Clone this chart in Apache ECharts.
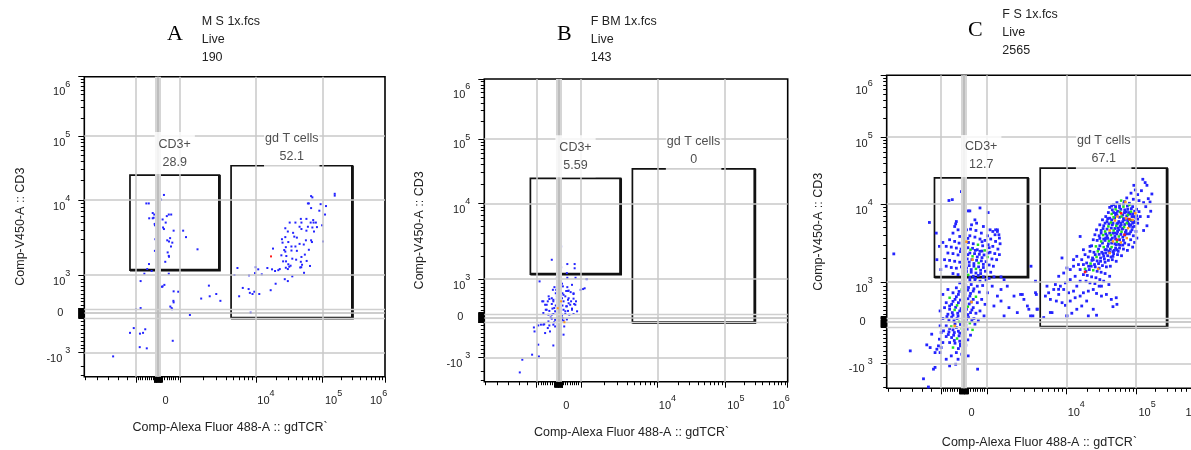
<!DOCTYPE html>
<html><head><meta charset="utf-8">
<script src="https://cdn.jsdelivr.net/npm/echarts@6/dist/echarts.min.js"></script>
<style>html,body{margin:0;padding:0;background:#fff}#c{width:1191px;height:450px}</style>
</head><body><div id="c"></div><script>
// ---------------- DATA (fluorescence values) ----------------
const panelLetters=['A','B','C'];
const sampleNames=['M S 1x.fcs','F BM 1x.fcs','F S 1x.fcs'];
const parentGate=['Live','Live','Live'];
const eventCounts=['190','143','2565'];
const cd3Name='CD3+';
const gdName='gd T cells';
const cd3Freq=['28.9','5.59','12.7'];
const gdFreq=['52.1','0','67.1'];
const gateCD3=[-1200,1160,3300,24500];
const gateGD=[4700,-130,300000,34300];
const xTitle='Comp-Alexa Fluor 488-A :: gdTCR`';
const yTitle='Comp-V450-A :: CD3';
const xTickLabelValues=[0,1e4,1e5,1e6];
const xTickLabels=['0','10^4','10^5','10^6'];
const yTickLabelValues=[-1e3,0,1e3,1e4,1e5,1e6];
const yTickLabels=['-10^3','0','10^3','10^4','10^5','10^6'];
const gridXValues=[-1e3,1e3,1e4,1e5];
const gridYValues=[-1e3,1e3,1e4,1e5];

const panelA_blue=[[270,12000],[140,10100],[-530,9000],[-420,9000],[-30,9500],[-30,8800],[60,7600],[-60,7000],[-240,6700],[-170,6400],[-90,6100],[-200,5800],[-400,5700],[-240,5700],[490,6400],[600,6400],[400,6100],[50,5800],[60,5200],[210,5500],[350,5000],[-150,4800],[-140,4600],[230,4300],[270,4100],[-30,4100],[710,3900],[1100,3900],[550,3100],[1200,3200],[10,3100],[-120,3000],[420,2900],[500,2800],[650,2700],[90,2850],[60,2600],[90,2500],[590,2400],[1700,2200],[-140,2100],[440,2000],[490,1800],[500,1750],[330,1500],[-50,1600],[-50,1450],[50,1400],[80,1350],[-410,1400],[-490,1200],[-290,1130],[-80,1120],[-620,1040],[490,1040],[-790,840],[290,740],[210,700],[180,690],[710,570],[920,560],[700,320],[710,280],[560,170],[620,130],[640,100],[-1000,100],[-790,130],[30,90],[-50,30],[1350,-50],[-1070,-380],[-1200,-500],[-820,-520],[-680,-500],[-580,-410],[30,-410],[670,-700],[-830,-860],[-510,-890],[-2000,-1120],[2400,720],[2460,440],[3000,500],[3400,320],[1900,380],
[67000,11500],[70000,11000],[156000,12500],[156000,11700],[60000,9000],[62000,9000],[93000,8800],[113000,8300],[67000,7800],[89000,7200],[109000,6400],[47000,5600],[57000,5600],[72000,5400],[73000,5000],[66000,5000],[79000,5000],[48000,5000],[32000,5000],[39000,5000],[98000,4600],[60000,4400],[70000,4300],[82000,4350],[45000,4400],[48000,4100],[27500,4200],[30000,3800],[36000,3650],[57000,3900],[74000,3800],[37500,3250],[27500,3200],[24500,3000],[30500,2750],[25000,2700],[41000,3150],[56000,2900],[67000,2900],[69000,2750],[101000,2800],[45000,2600],[52000,2550],[28000,2350],[34000,2400],[39000,2400],[18000,2250],[26500,2150],[27500,2050],[34000,2120],[41000,2100],[62000,2170],[24000,1830],[28500,1790],[48000,1740],[54000,1870],[35000,1650],[40000,1600],[25500,1520],[28200,1520],[47000,1500],[57500,1540],[30500,1390],[31500,1290],[33000,1330],[49000,1370],[47700,1270],[28000,1250],[30000,1200],[46000,1260],[64500,1320],[14800,1240],[17400,1190],[19300,1130],[21600,1160],[22700,1200],[5700,1240],[9900,1270],[10800,1190],[9700,1060],[12200,1020],[5200,1000],[8100,990],[52500,1070],[35000,965],[27000,890],[30000,840],[19700,770],[16600,600],[6700,660],[8000,630],[9500,560],[8300,530],[9000,500],[11200,500],[6000,440],[8500,10]];
const panelA_red=[[16800,1770]];

const panelB_blue=[[110,2700],[20,2200],[-310,1800],[110,1430],[390,1580],[720,1580],[720,1390],[370,1200],[-80,1040],[390,1040],[760,1040],[1200,1000],[-860,940],[-190,790],[-40,820],[150,880],[390,790],[600,850],[1120,760],[990,720],[340,690],[420,690],[-260,720],[-130,630],[80,660],[170,630],[540,660],[670,610],[-450,550],[-310,500],[-490,420],[-740,420],[-240,460],[-80,480],[40,540],[150,500],[300,550],[420,460],[670,490],[780,420],[-610,330],[-310,350],[-130,310],[-10,370],[170,310],[340,290],[520,330],[700,350],[-580,200],[-420,170],[-280,230],[-160,160],[70,140],[220,200],[420,170],[600,230],[830,160],[-460,70],[-240,90],[-40,30],[150,50],[300,90],[480,70],[670,90],[-310,-30],[-10,-60],[170,-15],[370,-50],[-800,-180],[-650,-170],[-420,-200],[-200,-120],[70,-140],[-1080,-250],[-920,-200],[-490,-265],[-160,-225],[250,-225],[-1060,-350],[-610,-390],[-390,-350],[-40,-390],[-920,-680],[-240,-700],[-890,-975],[-1140,-930],[-1530,-1070],[-1650,-1575],
[-690,420],[-540,330],[-420,480],[-240,420],[-80,550],[40,630],[220,590],[450,500],[560,420],[750,330],[300,160],[150,70],[-80,115],[-310,70],[-540,200],[-690,115],[-200,245],[-10,330],[370,290],[600,200],[220,420],[-110,720],[190,810],[450,700],[670,630],[-80,-60],[-460,-100],[-690,-180],[-240,-180],[150,-60],[1070,740],[1180,1000],[70,370],[450,370],[-160,-60],[220,-80],[-360,0],[220,-430],[20,-580]];
const panelB_orange=[[110,420],[-40,240],[260,-120]];

const panelC_blue=[[127000,23400],[137900,20900],[147000,19000],[93000,19000],[175000,14100],[121000,15800],[106000,13800],[154000,12000],[84700,14500],[73600,12300],[130700,10470],[164000,10700],[111100,11220],[91400,11750],[168000,8070],[141000,9230],[153700,6900],[147000,5260],[130700,4580],[97500,16200],[80240,10230],[68200,10840],
[41880,9040],[47700,9800],[53200,10470],[89430,9230],[101800,8540],[111100,7980],[45700,8400],[57970,9040],[76010,8540],[116000,6900],[40100,7760],[52010,7600],[68200,7760],[87500,6900],[99660,6570],[36800,6900],[41880,6570],[93400,5960],[106000,5680],[33000,6270],[38400,5960],[56700,5960],[64600,5960],[83800,5410],[95400,5160],[30260,5410],[34400,5260],[45700,5410],[59200,5160],[87500,4670],[99660,4450],
[27150,4670],[31600,4580],[54300,4450],[70500,4320],[80240,4150],[91400,3920],[103000,3660],[25720,4040],[29600,3920],[38400,3920],[49800,3840],[64600,3760],[83800,3490],[95400,3220],[24360,3490],[27700,3420],[36000,3420],[68900,3160],[78500,3010],[89430,2810],[23080,2920],[30260,2920],[39200,2870],[50900,2730],[57970,2730],[66000,2650],[75200,2550],[21860,2480],[24900,2410],[32300,2410],[36800,2360],[41880,2410],[47700,2320],[54300,2250],[61900,2180],[20700,2100],[23800,2040],[31000,2040],[35200,1980],[40100,1900],[45700,1940],[52010,1850],[19600,1760],[25400,1680],[29000,1730],[33000,1630],[37580,1570],[42800,1600],[21400,1450],[27700,1380],[31600,1340],[36000,1290],[41880,1190],[17600,1250],[20000,1220],[23080,1170],[26600,1140],[30260,1080],[34400,1030],[19200,1030],[21860,983],[25720,966],[29600,900],[40800,940],
[49270,6570],[54910,5680],[61200,5410],[68200,6270],[76010,5960],[44210,4910],[49270,4240],[54910,4910],[63200,4770],[72000,4580],[80240,5160],[89430,5680],[50900,3560],[57970,3490],[66000,3420],[45700,3660],[40100,3090],[44700,3160],[52010,3010],[59200,2980],[37580,2600],[42800,2650],[48700,2550],[55500,2480],[39200,2180],[34400,2140],[31000,1850],[46680,2140],[53200,7230],[60500,8540],[68900,8400],[78500,7760],[89430,7450],[101800,7040],[64600,7230],[73600,7040],[41880,4240],[36800,3660],[33000,3160],[29000,2650],[26000,2250],[23300,1900],[20900,1600],[19200,1380],
[44700,9400],[50900,9230],[57970,9800],[66000,10000],[75200,9400],[85600,8700],[95400,8070],[47700,7760],[54300,8070],[72000,7900],[81900,7450],[93400,6900],[106000,6400],[39200,6500],[44700,6270],[50900,7170],[57970,6760],[66000,6500],[75200,6400],[85600,6140],[97500,5800],[36000,5680],[40800,5570],[46680,5680],[53200,5570],[60500,5680],[68900,5460],[78500,5570],[89430,5060],[33700,4850],[38400,4770],[49800,4850],[56700,4670],[64600,4850],[73600,4150],[83800,4410],[31600,4240],[36800,4150],[46680,4240],[53200,4150],[60500,4080],[68900,4000],[30260,3630],[34400,3560],[39200,3630],[43700,3490],[49800,3090],[56700,3040],[64600,2980],[36000,2600],[40800,2500],[46680,2460],[53200,2600],[29600,2270],[33700,2320],[43700,2100],[24360,1940],[27700,1870],[36000,1800],[22800,1600],[26000,1570],[29600,1510],
[15800,3840],[17600,2600],[14150,2140],[12700,1940],[11400,1450],[10200,1520],[9280,1310],[8030,1190],[7290,941],[8430,900],[9740,983],[11400,1080],[13400,1190],[15800,1030],[14150,900],[12700,775],[10800,733],[9280,816],[8030,691],[6950,816],[6000,733],[5720,900],[5460,650],[6310,566],[7500,525],[8850,483],[9740,416],[11400,525],[13400,608],[15800,650],[17600,733],[20700,775],[24360,816],[27150,716],[31940,650],[37580,691],[44210,566],[52010,608],[53200,441],[46680,383],[19600,525],[16650,400],[14150,317],[12000,217],[10200,150],[24360,317],[27150,167],[20700,150],[6620,233],[5200,108],[4300,317],[31940,900],[15800,1450],[14950,1680],[12700,1600],[17600,1680],[16650,1940],[18570,2250],[21860,2870],[4100,1030],[4200,690],[3800,150],[3600,1600],
[4100,735],[4300,320],[6300,235],[8000,820],[8830,2040],[10200,150],[3550,150],[2800,690],[3240,400],
[60,4320],[293,4760],[528,4580],[763,4240],[1020,3920],[1190,4450],[1360,4670],[-176,3840],[44,3660],[264,3920],[484,3770],[704,3560],[924,3420],[1120,3560],[1290,3320],[1470,3100],[-616,3490],[-396,3320],[-205,3160],[0,3100],[205,3220],[411,3100],[821,2920],[1040,3010],[1190,2870],[1380,2650],[-763,2870],[-543,2810],[-323,2730],[-117,2650],[88,2710],[499,2550],[704,2480],[1100,2410],[1260,2320],[1440,2250],[-690,2360],[-469,2320],[-249,2230],[-29,2180],[176,2250],[587,2100],[792,2060],[1160,1980],[1330,1940],[-836,1940],[-616,1900],[-396,1850],[-176,1800],[235,1800],[440,1730],[851,1690],[1070,1660],[1210,1600],[-763,1600],[-543,1540],[-323,1510],[-103,1570],[117,1510],[323,1450],[733,1420],[939,1380],[1120,1340],[-1000,1450],[-469,1290],[-249,1250],[-29,1290],[411,1190],[631,1220],[851,1170],[1070,1120],[1230,1170],[44,1080],[264,1060],[484,1080],[704,1030],[968,1060],[1510,1170],[-1120,1940],[-1040,2870],[-910,3220],[-469,4240],[-249,4670],[337,5410],[557,5680],[851,5150],[1100,4670],[1270,4040],[1440,3660],
[-59,2870],[176,2760],[381,2710],[587,2600],[792,2500],[1040,2360],[-147,2460],[59,2410],[264,2360],[469,2320],[675,2270],[880,2230],[-59,2020],[147,1980],[352,1940],[557,1900],[763,1870],[968,1830],[29,1660],[235,1630],[440,1600],[645,1570],[851,1540],[117,1370],[323,1340],[528,1310],[733,1290],[264,1150],[499,1120],[-29,3290],[176,3630],[792,3290],[1070,2760],
[-176,983],[88,916],[323,941],[587,900],[821,916],[-323,858],[176,800],[411,775],[675,750],[-469,733],[-235,691],[29,666],[264,650],[-381,566],[-147,550],[323,500],[587,483],[-763,483],[-528,441],[-59,400],[411,358],[-836,358],[-616,317],[-176,275],[59,250],[293,233],[528,217],[-690,192],[-469,167],[-249,150],[205,108],[440,83],[-910,83],[-645,50],[-425,25],[29,-16],[484,-56],[-763,-97],[-323,-137],[147,-177],[-880,-218],[-645,-242],[-411,-258],[-176,-274],[59,-298],[293,-322],[-763,-355],[-528,-379],[-59,-419],[176,-435],[-616,-500],[-381,-516],[-147,-540],[88,-564],[-235,-645],[0,-677],[-323,-742],[-88,-782],[191,-822],[-249,-903],[-29,-967],[-352,-1030],[-147,-580],[-1020,-97],[-983,-258],[-1040,-419],[778,566],[924,441],[704,275],[880,150],[631,25],[1020,733],[-910,691],[-690,816],[-1020,275],
[-29,900],[205,866],[440,833],[-205,766],[59,750],[293,716],[-323,633],[-59,600],[176,583],[411,566],[-469,516],[-235,483],[0,466],[235,450],[-616,400],[-352,366],[-117,333],[117,317],[352,300],[-499,233],[-264,217],[-59,200],[176,183],[-733,133],[-528,117],[-293,83],[117,67],[352,33],[-381,-48],[-147,-64],[88,-81],[-616,-161],[-469,-193],[-235,-226],[0,-242],[-674,-306],[-440,-322],[-205,-339],[29,-371],[-411,-451],[-176,-467],[59,-484],
[-103,15300],[-645,11260],[-499,11600],[191,8150],[264,8150],[704,8890],[1040,7760],[-1390,5800],[-1140,4240],[-323,5960],[-352,5560],[-396,5150],[484,6260],[117,4670],[1360,4450],[1420,4040],[1290,4670],[-2420,-701],[-1500,-556],[-1360,-621],[-1120,-661],[-1020,-742],[-1300,-298],[-910,-500],[-1235,-1190],[-1180,-1130],[-1650,-1580],[-1430,-2010],[-616,-1080],[601,-1190],[-763,-903],[-543,-822],[-1070,-580],[-1180,-742],[-983,-621],[1810,900],[2200,650],[2660,691],[3380,317],[2930,566],[1510,525],[1230,400],[1510,816],[1900,358],[2420,233],[1650,150],[1360,650],[1170,900],[1650,1080],[-3900,2300]];
const panelC_green=[[61200,11220],[80240,9700],[50900,8540],[66000,9230],[84700,7980],[44700,7450],[59200,7900],[76800,7230],[47700,6760],[61900,6900],[81900,6270],[43700,5800],[73600,5680],[40100,5160],[52010,5260],[67500,5060],[36000,4450],[47700,4580],[61900,4410],[33700,4000],[43700,4000],[56700,3840],[31600,3320],[40800,3350],[53200,3290],[26600,2870],[34400,2810],[44700,2810],[28300,2480],[27150,2100],[22300,1730],[18570,1480],[24360,1420],
[616,3010],[293,2600],[909,2550],[381,2140],[1020,2100],[29,1870],[645,1760],[528,1480],[191,1240],[-88,816],[528,633],[-616,608],[88,525],[-293,416],[176,383],[-396,300],[-29,133],[-205,0],[264,-32],[-543,-113],[-88,-161],[381,-193],[-293,-403],[-469,-621]];
const panelC_orange=[[70500,10720],[97500,7600],[54300,6900],[72000,6570],[49800,6140],[76800,4910],[41880,4580],[73600,3660],[46680,3320],[60500,3220],[89430,6270],[41880,2360],[28660,1480],[117,3290],[381,1940],[-396,-97],[337,500]];
const panelC_red=[[80240,6400],[53200,3490],[68200,4040],[18570,1350],[61200,7600]];

// ---------------- biexponential display transform ----------------
const XA=[[-1e3,51.7],[0,73.7],[1e3,95.7],[1e4,171.7],[1e5,238.4],[1e6,300.7]];
const YA=[[-1e3,24],[0,63.7],[1e3,101.7],[1e4,176.7],[1e5,240.7],[1e6,300]];
function mk(A,negDec,posDec){
  return function(v){
    if(v<=A[0][0]) return A[0][1]-negDec*Math.log10(v/A[0][0]);
    if(v>=A[5][0]) return A[5][1]+posDec*Math.log10(v/A[5][0]);
    for(let i=0;i<5;i++){const a=A[i],b=A[i+1];
      if(v<=b[0]){
        if(a[0]>=1e3){const f=(Math.log10(v)-Math.log10(a[0]))/(Math.log10(b[0])-Math.log10(a[0]));return a[1]+f*(b[1]-a[1]);}
        const f=(v-a[0])/(b[0]-a[0]);return a[1]+f*(b[1]-a[1]);
      }}
    return A[5][1];
  };
}
const tx=mk(XA,76,62.3), ty=mk(YA,75,59.3);
const XMAX=300.7, YMAX=300;

// ticks
const xMajor=[-1e3,1e3,1e4,1e5,1e6]; const yMajor=[-1e3,1e3,1e4,1e5,1e6];
for(let v=-180;v<=180;v+=20) xMajor.push(v);
for(let v=-130;v<=130;v+=13) yMajor.push(v);
const xMinor=[-1300,-1700,-2300,-3200,-4600], yMinor=[-1500,-2000];
for(const d of [1e3,1e4,1e5]) for(let k=2;k<=9;k++){xMinor.push(k*d);yMinor.push(k*d);}
for(let v=200;v<=900;v+=100){xMinor.push(v,-v);yMinor.push(v,-v);}

// ---------------- layout ----------------
const FONT='"Liberation Sans", Arial, Helvetica, sans-serif';
const TXT='#222';
const LAYOUT=[
 {left:84.3,top:76.7,width:300.7,height:300,yGap:57,xGap:44,letter:[167,22],info:[201.7,12.8],sym:2,symC:2},
 {left:484.3,top:79,width:303.4,height:302.7,yGap:58,xGap:44.3,letter:[557,22],info:[590.7,12.8],sym:2,symC:2},
 {left:886.7,top:75.3,width:314.5,height:313,yGap:61.7,xGap:47.7,letter:[968,18],info:[1002.3,6.1],sym:2.8,symC:2.5}
];
const xLabShift=[4.5,1.3,2.3,-15];
const yLabShift=[-2.5,0,-3,-3,-3,-12];
const panelData=[
 {blue:panelA_blue,green:[],orange:[],red:panelA_red},
 {blue:panelB_blue,green:[],orange:panelB_orange,red:[]},
 {blue:panelC_blue,green:panelC_green,orange:panelC_orange,red:panelC_red}
];

function richText(t){
  if(t==='0') return '{z|0}';
  const m=t.match(/^(-?10)\^(\d)$/);
  return '{b|'+m[1]+'}{'+(m[1][0]==='-'?'sn':'s')+'|'+m[2]+'}';
}
const xLabPos=xTickLabelValues.map((v,i)=>tx(v)+xLabShift[i]);
const yLabPos=yTickLabelValues.map((v,i)=>ty(v)+yLabShift[i]);
function nearestLabel(pos,arr,labels){let bi=0,bd=1e9;arr.forEach((p,i)=>{const d=Math.abs(p-pos);if(d<bd){bd=d;bi=i;}});return richText(labels[bi]);}
const richBase={
  b:{fontSize:11,lineHeight:18,verticalAlign:'bottom',color:TXT,fontFamily:FONT},
  s:{fontSize:9,lineHeight:7,verticalAlign:'top',color:TXT,fontFamily:FONT},
  sn:{fontSize:9,lineHeight:7,verticalAlign:'top',color:TXT,fontFamily:FONT,padding:[0,0,0,3]}
};
const richX=Object.assign({},richBase,{z:{fontSize:11,lineHeight:18,verticalAlign:'bottom',color:TXT,fontFamily:FONT}});
const richY=Object.assign({},richBase,{z:{fontSize:11,lineHeight:18,color:TXT,fontFamily:FONT,padding:[0,7,0,0]}});

function renderGate(params,api){
  const p1=api.coord([api.value(0),api.value(1)]);
  const p2=api.coord([api.value(2),api.value(3)]);
  const x1=Math.min(p1[0],p2[0]),x2=Math.max(p1[0],p2[0]),y1=Math.min(p1[1],p2[1]),y2=Math.max(p1[1],p2[1]);
  return {type:'group',children:[
    {type:'rect',shape:{x:x1,y:y1,width:x2-x1,height:y2-y1},style:{fill:'none',stroke:'#111',lineWidth:1.7}},
    {type:'polyline',shape:{points:[[x2,y1],[x2,y2],[x1,y2]]},style:{fill:'none',stroke:'#111',lineWidth:2.8}}
  ]};
}

const option={animation:false,textStyle:{fontFamily:FONT},title:[],grid:[],xAxis:[],yAxis:[],series:[]};
LAYOUT.forEach((L,i)=>{
  option.title.push({text:panelLetters[i],left:L.letter[0],top:L.letter[1],padding:0,
    textStyle:{fontFamily:'"Liberation Serif","Times New Roman",serif',fontSize:22,fontWeight:'normal',color:'#000',lineHeight:24}});
  option.title.push({text:sampleNames[i]+'\n'+parentGate[i]+'\n'+eventCounts[i],left:L.info[0],top:L.info[1],padding:0,
    textStyle:{fontFamily:FONT,fontSize:12.5,fontWeight:'normal',color:TXT,lineHeight:17.8}});
  option.grid.push({left:L.left,top:L.top,width:L.width,height:L.height,containLabel:false,outerBoundsMode:'none',
    show:true,borderColor:'#000',borderWidth:1.6,backgroundColor:'#fff'});
  const ax=2*i;
  option.xAxis.push({gridIndex:i,type:'value',min:0,max:XMAX,position:'bottom',
    axisLine:{show:false,onZero:false},splitLine:{show:false},
    axisTick:{show:true,length:6,customValues:xMajor.map(tx),lineStyle:{color:'#000',width:1}},
    axisLabel:{show:true,customValues:xLabPos,align:'left',margin:12,rich:richX,
      formatter:(v)=>nearestLabel(v,xLabPos,xTickLabels)},
    name:xTitle,nameLocation:'middle',nameGap:L.xGap,nameMoveOverlap:false,
    nameTextStyle:{fontFamily:FONT,fontSize:12.5,color:TXT,padding:[0,9,0,0]}});
  option.xAxis.push({gridIndex:i,type:'value',min:0,max:XMAX,position:'bottom',
    axisLine:{show:false,onZero:false},splitLine:{show:false},axisLabel:{show:false},
    axisTick:{show:true,length:3.5,customValues:xMinor.map(tx),lineStyle:{color:'#000',width:1}}});
  option.yAxis.push({gridIndex:i,type:'value',min:0,max:YMAX,position:'left',
    axisLine:{show:false,onZero:false},splitLine:{show:false},
    axisTick:{show:true,length:6,customValues:yMajor.map(ty),lineStyle:{color:'#000',width:1}},
    axisLabel:{show:true,customValues:yLabPos,margin:14,rich:richY,
      formatter:(v)=>nearestLabel(v,yLabPos,yTickLabels)},
    name:yTitle,nameLocation:'middle',nameGap:L.yGap,nameRotate:90,nameMoveOverlap:false,
    nameTextStyle:{fontFamily:FONT,fontSize:12.5,color:TXT}});
  option.yAxis.push({gridIndex:i,type:'value',min:0,max:YMAX,position:'left',
    axisLine:{show:false,onZero:false},splitLine:{show:false},axisLabel:{show:false},
    axisTick:{show:true,length:3.5,customValues:yMinor.map(ty),lineStyle:{color:'#000',width:1}}});

  const gl={color:'#c9c9c9',width:1.5,type:'solid'};
  const mlData=[];
  gridXValues.forEach(v=>mlData.push({xAxis:tx(v),lineStyle:gl}));
  gridYValues.forEach(v=>mlData.push({yAxis:ty(v),lineStyle:gl}));
  mlData.push({xAxis:tx(0),lineStyle:{color:'#d5d5d5',width:6,type:'solid'}});
  mlData.push({xAxis:tx(0),lineStyle:{color:'#bdbdbd',width:2,type:'solid'}});
  mlData.push({yAxis:ty(0),lineStyle:{color:'#bdbdbd',width:1.6,type:'solid'}});
  mlData.push({yAxis:ty(0)+3.5,lineStyle:{color:'#cfcfcf',width:1.4,type:'solid'}});
  mlData.push({yAxis:ty(0)-5,lineStyle:{color:'#cfcfcf',width:1.4,type:'solid'}});
  option.series.push({type:'scatter',xAxisIndex:ax,yAxisIndex:ax,data:[],z:1,silent:true,
    markLine:{silent:true,symbol:['none','none'],label:{show:false},animation:false,data:mlData}});

  const gates=[gateCD3,gateGD].map(g=>[tx(g[0]),ty(g[1]),tx(g[2]),ty(g[3])]);
  option.series.push({type:'custom',xAxisIndex:ax,yAxisIndex:ax,renderItem:renderGate,data:gates,
    encode:{x:[0,2],y:[1,3]},z:2,silent:true,clip:false});

  const D=panelData[i];
  const cols=[['blue','#2424ff'],['green','#22dd22'],['orange','#ff9a1a'],['red','#ff1a1a']];
  cols.forEach(([k,c],j)=>{
    if(!D[k].length) return;
    option.series.push({type:'scatter',xAxisIndex:ax,yAxisIndex:ax,symbol:'rect',symbolSize:j===0?L.sym:L.symC,
      data:D[k].map(p=>[tx(p[0]),ty(p[1])]),itemStyle:{color:c,opacity:1},z:3+j,silent:true,large:false,progressive:0});
  });

  const lblStyle={color:TXT,fontFamily:FONT,fontSize:12.5,lineHeight:18,backgroundColor:'#fff'};
  option.series.push({type:'scatter',xAxisIndex:ax,yAxisIndex:ax,symbolSize:0,z:10,silent:true,
    data:[[(gates[0][0]+gates[0][2])/2,gates[0][3]]],
    label:Object.assign({show:true,position:'top',distance:1,padding:[3,4,3,4],align:'center',
      formatter:cd3Name+'\n'+cd3Freq[i]},lblStyle)});
  option.series.push({type:'scatter',xAxisIndex:ax,yAxisIndex:ax,symbolSize:0,z:10,silent:true,
    data:[[(gates[1][0]+gates[1][2])/2,gates[1][3]]],
    label:Object.assign({show:true,position:'top',distance:-1.5,padding:[4,1,2,1],align:'center',
      formatter:gdName+'\n'+gdFreq[i]},lblStyle)});
});
const chart=echarts.init(document.getElementById('c'),null,{renderer:'canvas',width:1191,height:450});
chart.setOption(option);
</script></body></html>
